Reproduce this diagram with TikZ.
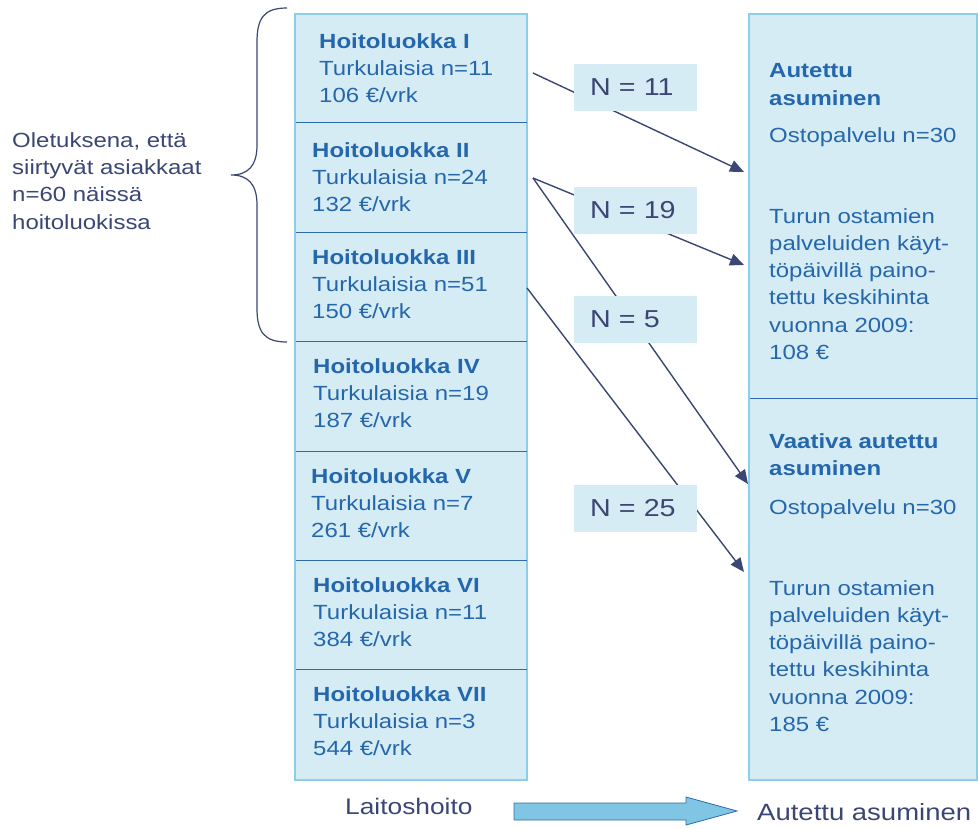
\documentclass[tikz,border=0pt]{standalone}
\usepackage{fontspec}
\setmainfont{Liberation Sans}[FakeStretch=1.17]
\usetikzlibrary{arrows.meta}

\definecolor{laatikko}{HTML}{D6ECF5}
\definecolor{reuna}{HTML}{8ECDE8}
\definecolor{otsikko}{HTML}{2567AD}
\definecolor{jako}{HTML}{2F6BA8}
\definecolor{tumma}{HTML}{3A4674}
\definecolor{nuoli}{HTML}{80C5E4}

\tikzset{
  sarake/.style={draw=reuna, line width=1.5pt, fill=laatikko, inner sep=0pt},
  luokka/.style={anchor=west, align=left, inner sep=0pt, text=otsikko,
    font=\fontsize{20.5}{27.3}\selectfont},
  selite/.style={anchor=west, align=left, inner sep=0pt, text=tumma,
    font=\fontsize{20.5}{27.3}\selectfont},
  maara/.style={fill=laatikko, text=tumma, minimum width=123pt, minimum height=47pt,
    text width=91pt, inner xsep=16pt, align=left, font=\fontsize{24.5}{26}\selectfont},
  siirto/.style={draw=tumma, line width=1.4pt, -{Triangle[length=14pt, width=12pt]}}
}

\begin{document}
\begin{tikzpicture}[x=1pt, y=-1pt]
  \useasboundingbox (0,0) rectangle (978,828);

  % Draw the two columns
  \node[sarake, minimum width=232pt, minimum height=766pt] (laitos) at (411,397) {};
  \node[sarake, minimum width=228pt, minimum height=766pt] (asuminen) at (863,397) {};

  % Draw the dividers
  \foreach \y in {122,232,341,451,560,669}
    \draw[jako, line width=1pt] (296,\y) -- (527,\y);
  \draw[jako, line width=1pt] (750,398) -- (978,398);

  % Draw the care classes
  \foreach \x/\y/\luokka/\n/\hinta [count=\i] in {319/68/I/11/106, 312/177/II/24/132,
      312/284/III/51/150, 313/393/IV/19/187, 311/503/V/7/261, 313/612/VI/11/384,
      313/721/VII/3/544}
    \node[luokka] (hl\i) at (\x,\y)
      {\textbf{Hoitoluokka \luokka}\\Turkulaisia n=\n\\\hinta~€/vrk};

  % Draw the assisted living texts
  \node[luokka] (aa1) at (769,84.5) {\textbf{Autettu}\\\textbf{asuminen}};
  \node[luokka] (op1) at (769,137) {Ostopalvelu n=30};
  \node[luokka] (hinta1) at (769,284) {Turun ostamien\\palveluiden käyt-\\töpäivillä paino-\\tettu keskihinta\\vuonna 2009:\\108 €};
  \node[luokka] (aa2) at (769,455) {\textbf{Vaativa autettu}\\\textbf{asuminen}};
  \node[luokka] (op2) at (769,509) {Ostopalvelu n=30};
  \node[luokka] (hinta2) at (769,656) {Turun ostamien\\palveluiden käyt-\\töpäivillä paino-\\tettu keskihinta\\vuonna 2009:\\185 €};

  % Draw the brace and its text
  \node[selite] (oletus) at (12,181) {Oletuksena, että\\siirtyvät asiakkaat\\n=60 näissä\\hoitoluokissa};
  \draw[tumma, line width=1.2pt] (287,8) .. controls (264,8) and (257,18) .. (257,42)
    -- (257,145) .. controls (257,166) and (248,175) .. (231,175)
    .. controls (248,175) and (257,184) .. (257,205)
    -- (257,308) .. controls (257,332) and (264,342) .. (287,342);

  % Draw the transfers
  \coordinate (l1) at (533,73);
  \coordinate (l2) at (533,178);
  \coordinate (l3) at (527,288);
  \coordinate (r1) at (744,172);
  \coordinate (r2) at (744,265);
  \coordinate (r3) at (748,484);
  \coordinate (r4) at (744,572);
  \draw[siirto] (l1) -- (r1);
  \draw[siirto] (l2) -- (r2);
  \draw[siirto] (l2) -- (r3);
  \draw[siirto] (l3) -- (r4);

  \node[maara] (n1) at (635.5,87) {N = 11};
  \node[maara] (n2) at (635.5,210.5) {N = 19};
  \node[maara] (n3) at (635.5,319.5) {N = 5};
  \node[maara] (n4) at (635.5,508.5) {N = 25};

  % Draw the bottom arrow
  \node[selite, font=\fontsize{22.5}{26}\selectfont] (laitoshoito) at (345,806) {Laitoshoito};
  \node[selite, font=\fontsize{23.5}{26}\selectfont] (autettu) at (757,812) {Autettu asuminen};
  \draw[draw=jako, line width=0.8pt, fill=nuoli] (514,803) -- (686,803) -- (686,797)
    -- (737,811) -- (686,825) -- (686,820) -- (514,820) -- cycle;
\end{tikzpicture}
\end{document}
